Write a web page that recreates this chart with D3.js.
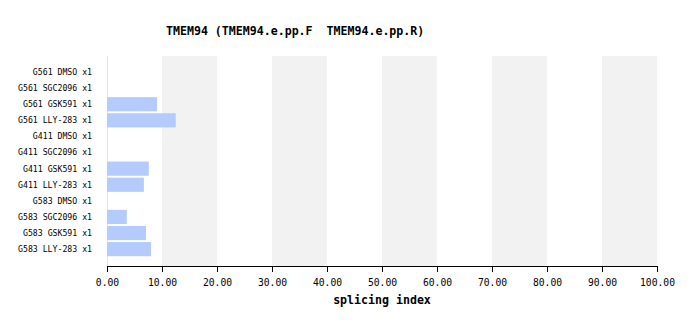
<!DOCTYPE html>
<html>
<head>
<meta charset="utf-8">
<script src="https://cdn.jsdelivr.net/npm/d3@7"></script>
<style>
body { margin: 0; background: #fff; }
text { font-family: "DejaVu Sans Mono", "Liberation Mono", monospace; }
</style>
</head>
<body>
<svg id="chart" width="697" height="326"></svg>
<script>
var samples = ['G561 DMSO x1', 'G561 SGC2096 x1', 'G561 GSK591 x1', 'G561 LLY-283 x1',
	'G411 DMSO x1', 'G411 SGC2096 x1', 'G411 GSK591 x1', 'G411 LLY-283 x1',
	'G583 DMSO x1', 'G583 SGC2096 x1', 'G583 GSK591 x1', 'G583 LLY-283 x1'];
var splicingIndex = [0, 0, 9.1, 12.5, 0, 0, 7.6, 6.7, 0, 3.6, 7.1, 8.0];
var xTicks = [0, 10, 20, 30, 40, 50, 60, 70, 80, 90, 100];

var svg = d3.select('#chart');
var plotLeft = 107, plotRight = 657, plotTop = 56, plotBottom = 266;

var x = d3.scaleLinear().domain([0, 100]).range([plotLeft, plotRight]);
var y = d3.scaleBand().domain(samples).range([64, 257.2]).paddingInner(0.12).paddingOuter(0.06);

// alternating grey bands
var bands = xTicks.slice(0, -1).filter(function(d, i) { return i % 2 === 1; });
svg.selectAll('rect.band').data(bands).enter().append('rect')
	.attr('class', 'band')
	.attr('x', function(d) { return x(d); })
	.attr('width', function(d) { return x(d + 10) - x(d); })
	.attr('y', plotTop).attr('height', plotBottom - plotTop)
	.attr('fill', '#f2f2f2');

svg.append('line')
	.attr('x1', x(0) + 0.5).attr('x2', x(0) + 0.5)
	.attr('y1', plotTop).attr('y2', plotBottom)
	.attr('stroke', '#e4e4e4');

svg.selectAll('rect.bar').data(splicingIndex).enter().append('rect')
	.attr('class', 'bar')
	.attr('x', x(0))
	.attr('y', function(d, i) { return y(samples[i]); })
	.attr('width', function(d) { return x(d) - x(0); })
	.attr('height', y.bandwidth())
	.attr('fill', '#b3cbfd');

svg.selectAll('text.lab').data(samples).enter().append('text')
	.attr('class', 'lab')
	.attr('x', 92)
	.attr('y', function(d) { return y(d) + y.bandwidth() / 2; })
	.attr('dy', '0.35em')
	.attr('text-anchor', 'end')
	.attr('font-size', '8.2px')
	.attr('fill', '#000')
	.text(function(d) { return d; });

var xAxis = d3.axisBottom(x).tickValues(xTicks).tickSize(6).tickFormat(d3.format('.2f'));
var gx = svg.append('g').attr('transform', 'translate(0,' + plotBottom + ')').call(xAxis);
gx.select('.domain').attr('stroke', '#000').attr('d', 'M' + (plotLeft + 0.5) + ',6V0.5H' + (plotRight + 0.5) + 'V6');
gx.selectAll('.tick line').attr('stroke', '#000');
gx.selectAll('.tick text')
	.attr('y', 13)
	.attr('font-size', '9.7px')
	.attr('font-family', '"DejaVu Sans Mono", monospace')
	.attr('fill', '#000');

svg.append('text')
	.attr('x', (plotLeft + plotRight) / 2).attr('y', 304)
	.attr('text-anchor', 'middle')
	.attr('font-size', '11.6px').attr('font-weight', 'bold')
	.text('splicing index');

svg.append('text')
	.attr('x', 166).attr('y', 35)
	.attr('font-size', '11.6px').attr('font-weight', 'bold')
	.style('white-space', 'pre')
	.text('TMEM94 (TMEM94.e.pp.F  TMEM94.e.pp.R)');
</script>
</body>
</html>
